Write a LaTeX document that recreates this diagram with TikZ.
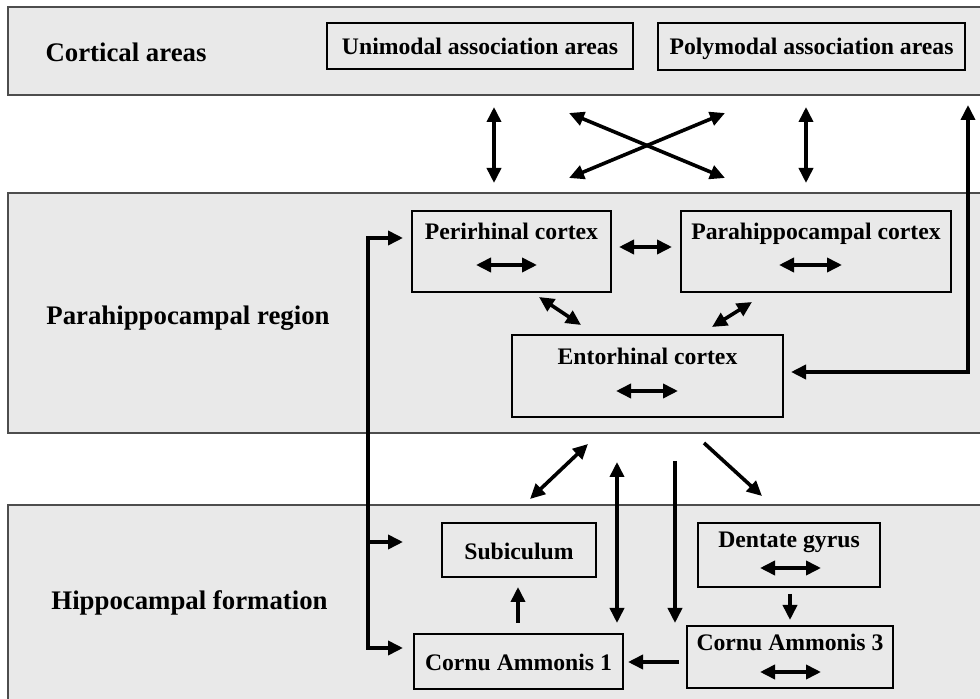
\documentclass[tikz,border=0pt]{standalone}
\usepackage{fontspec}
\setmainfont{Liberation Serif}
\usetikzlibrary{arrows.meta}
\definecolor{bandfill}{HTML}{E9E9E9}
\definecolor{bandline}{HTML}{4D4D4D}
\begin{document}
\begin{tikzpicture}[x=0.5pt,y=-0.5pt,line join=miter,
  band/.style={draw=bandline,line width=0.6pt,fill=bandfill},
  box/.style={draw=black,line width=1.4pt,fill=bandfill,inner sep=0pt},
  bandlabel/.style={font=\fontsize{13.4}{16}\selectfont\bfseries,anchor=base,inner sep=0pt},
  boxlabel/.style={font=\fontsize{11.85}{14}\selectfont\bfseries,anchor=base,inner sep=0pt},
  tip/.tip={Triangle[length=7.5pt,width=7pt]},
  conn/.style={line width=1.8pt,tip-tip},
  one/.style={line width=1.8pt,-tip},
]
\useasboundingbox (0,0) rectangle (980,699);
\clip (0,0) rectangle (980,699);

% bands
\path[band] (8,7) rectangle (1000,95);
\path[band] (8,193) rectangle (1000,433);
\path[band] (8,505) rectangle (1000,720);
\node[bandlabel] (lcort) at (126,62) {Cortical areas};
\node[bandlabel] (lpara) at (188,325) {Parahippocampal region};
\node[bandlabel] (lhipp) at (189.5,610) {Hippocampal formation};

% boxes
\node[box,minimum width=153pt,minimum height=23pt] (uni) at (480,46) {};
\node[boxlabel] (uni-t) at (480,55) {Unimodal association areas};
\node[box,minimum width=153.5pt,minimum height=23.5pt] (poly) at (811.5,46.5) {};
\node[boxlabel] (poly-t) at (811.5,55) {Polymodal association areas};

\node[box,minimum width=99.5pt,minimum height=40.5pt] (peri) at (511.5,251.5) {};
\node[boxlabel] (peri-t) at (511.5,240) {Perirhinal cortex};
\node[box,minimum width=135pt,minimum height=40.5pt] (parc) at (816,251.5) {};
\node[boxlabel] (parc-t) at (816,240) {Parahippocampal cortex};
\node[box,minimum width=135.5pt,minimum height=41pt] (ento) at (647.5,376) {};
\node[boxlabel] (ento-t) at (647.5,365) {Entorhinal cortex};

\node[box,minimum width=77pt,minimum height=27pt] (sub) at (519,550) {};
\node[boxlabel] (sub-t) at (519,560) {Subiculum};
\node[box,minimum width=91pt,minimum height=32pt] (dg) at (789,555) {};
\node[boxlabel] (dg-t) at (789,548) {Dentate gyrus};
\node[box,minimum width=104.5pt,minimum height=27.5pt] (ca1) at (518.5,661.5) {};
\node[boxlabel] (ca1-t) at (518.5,671) {Cornu Ammonis 1};
\node[box,minimum width=103pt,minimum height=31pt] (ca3) at (790,657) {};
\node[boxlabel] (ca3-t) at (790,651) {Cornu Ammonis 3};

% inner double arrows
\coordinate (pia) at (476,265); \coordinate (pib) at (537,265);
\coordinate (qia) at (779,265); \coordinate (qib) at (842,265);
\coordinate (eia) at (616,391); \coordinate (eib) at (678,391);
\coordinate (dia) at (760,568); \coordinate (dib) at (821,568);
\coordinate (cia) at (760,672); \coordinate (cib) at (821,672);
\draw[conn] (pia) -- (pib);
\draw[conn] (qia) -- (qib);
\draw[conn] (eia) -- (eib);
\draw[conn] (dia) -- (dib);
\draw[conn] (cia) -- (cib);

% cortical <-> parahippocampal
\coordinate (t1a) at (494,107); \coordinate (t1b) at (494,183);
\coordinate (x1a) at (569,113); \coordinate (x1b) at (725,178);
\coordinate (x2a) at (725,113); \coordinate (x2b) at (569,178);
\coordinate (t2a) at (806,107); \coordinate (t2b) at (806,183);
\draw[conn] (t1a) -- (t1b);
\draw[conn] (x1a) -- (x1b);
\draw[conn] (x2a) -- (x2b);
\draw[conn] (t2a) -- (t2b);
\coordinate (lpa) at (968,105); \coordinate (lpb) at (968,372); \coordinate (lpc) at (791,372);
\draw[conn] (lpa) -- (lpb) -- (lpc);

% within parahippocampal region
\coordinate (ppa) at (619,247); \coordinate (ppb) at (672,247);
\draw[conn] (ppa) -- (ppb);
\coordinate (pea) at (539,297); \coordinate (peb) at (581,325);
\draw[conn] (pea) -- (peb);
\coordinate (qea) at (752,302); \coordinate (qeb) at (712,327);
\draw[conn] (qea) -- (qeb);

% left bracket
\coordinate (br1) at (368,238); \coordinate (br1e) at (403,238);
\coordinate (br2) at (368,542); \coordinate (br2e) at (403,542);
\coordinate (br3) at (368,648); \coordinate (br3e) at (403,648);
\draw[conn] (br1e) -- (br1) -- (br3) -- (br3e);
\draw[one] (br2) -- (br2e);

% parahippocampal <-> hippocampal
\coordinate (esa) at (588,444); \coordinate (esb) at (530,499);
\draw[conn] (esa) -- (esb);
\coordinate (eca) at (617,462); \coordinate (ecb) at (617,623);
\draw[conn] (eca) -- (ecb);
\coordinate (eda) at (675,461); \coordinate (edb) at (675,623);
\draw[one] (eda) -- (edb);
\coordinate (ega) at (704,443); \coordinate (egb) at (762,496);
\draw[one] (ega) -- (egb);

% within hippocampal formation
\coordinate (dga) at (790,594); \coordinate (dgb) at (790,620);
\draw[one] (dga) -- (dgb);
\coordinate (c3a) at (679,662); \coordinate (c3b) at (628,662);
\draw[one] (c3a) -- (c3b);
\coordinate (c1a) at (518,623); \coordinate (c1b) at (518,587);
\draw[one] (c1a) -- (c1b);
\end{tikzpicture}
\end{document}
